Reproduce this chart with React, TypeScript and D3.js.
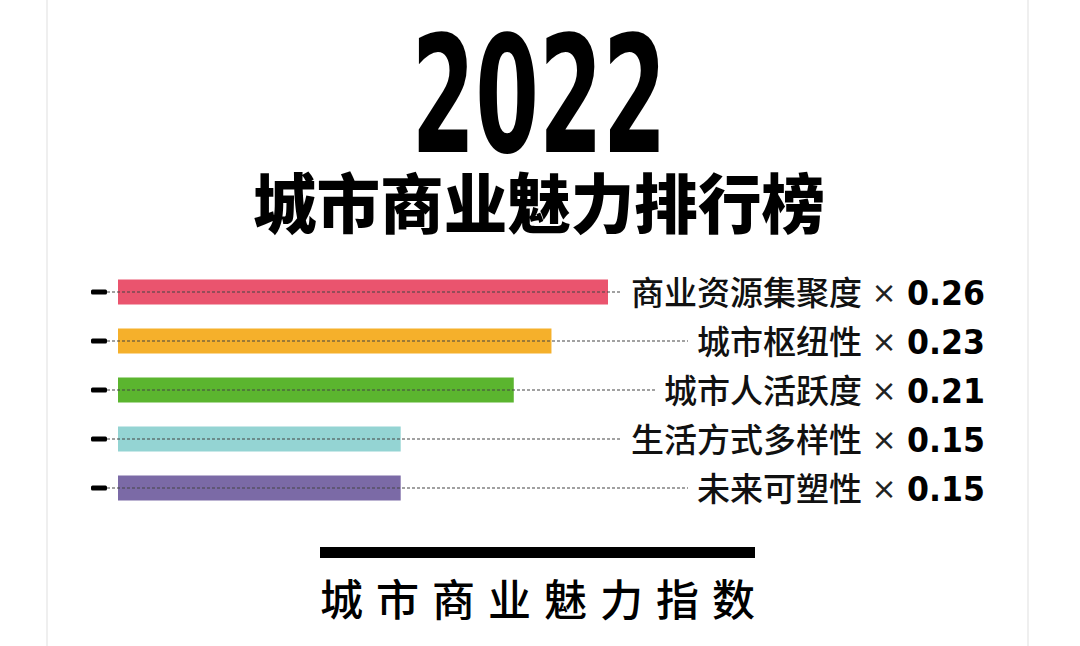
import React from 'react';
import * as d3 from 'd3';

const categories = ['商业资源集聚度', '城市枢纽性', '城市人活跃度', '生活方式多样性', '未来可塑性'];
const weights = [0.26, 0.23, 0.21, 0.15, 0.15];
const weightLabels = ['0.26', '0.23', '0.21', '0.15', '0.15'];
const barColors = ['#ea546e', '#f5b02b', '#5bb52f', '#94d4d3', '#7b6aa6'];

const yearText = '2022';
const titleText = '城市商业魅力排行榜';
const footerText = '城市商业魅力指数';

const CJK = '"Noto Sans CJK SC", "Noto Sans", sans-serif';
const NUM = '"DejaVu Sans", "Liberation Sans", sans-serif';

export default function App() {
  const width = 1080;
  const height = 646;

  const x = d3.scaleLinear().domain([0, 0.26]).range([118, 608]);
  const y = d3.scalePoint<string>().domain(categories).range([292, 488]);

  const barH = 25;
  const labelSize = 33;
  const labelEnd = 862;

  return (
    <svg
      width={width}
      height={height}
      style={{ position: 'absolute', left: 0, top: 0, background: '#fff' }}
    >
      {/* card edges */}
      <rect x={46} y={0} width={2} height={height} fill="#efefef" />
      <rect x={1027} y={0} width={2} height={height} fill="#efefef" />

      <text
        x={411.5}
        y={151.5}
        fontFamily={NUM}
        fontWeight={700}
        fontSize={162}
        textLength={255}
        lengthAdjust="spacingAndGlyphs"
        fill="#000"
      >
        {yearText}
      </text>

      <text
        x={253}
        y={228}
        fontFamily={CJK}
        fontWeight={900}
        fontSize={65}
        textLength={572}
        lengthAdjust="spacingAndGlyphs"
        fill="#000"
      >
        {titleText}
      </text>

      {categories.map((c, i) => {
        const cy = y(c) as number;
        const labelStart = labelEnd - c.length * labelSize;
        return (
          <g key={c}>
            <rect x={x(0)} y={cy - barH / 2} width={x(weights[i]) - x(0)} height={barH} fill={barColors[i]} />
            <rect x={91} y={cy - 2.5} width={16} height={5} rx={1.5} fill="#000" />
            <line
              x1={107}
              x2={labelStart - 9}
              y1={cy}
              y2={cy}
              stroke="#444"
              strokeWidth={1.2}
              strokeDasharray="3,2"
            />
            <text
              x={labelEnd}
              y={cy + labelSize * 0.38}
              textAnchor="end"
              fontFamily={CJK}
              fontWeight={500}
              fontSize={labelSize}
              fill="#111"
            >
              {c}
            </text>
            <text
              x={884}
              y={cy + 11}
              textAnchor="middle"
              fontFamily={NUM}
              fontSize={30}
              fill="#222"
            >
              ×
            </text>
            <text
              x={907}
              y={cy + 13}
              fontFamily={NUM}
              fontWeight={700}
              fontSize={34}
              textLength={78}
              lengthAdjust="spacingAndGlyphs"
              fill="#000"
            >
              {weightLabels[i]}
            </text>
          </g>
        );
      })}

      <rect x={320} y={547} width={435} height={11} fill="#000" />
      <text
        x={320}
        y={616}
        fontFamily={CJK}
        fontWeight={500}
        fontSize={43}
        textLength={435}
        lengthAdjust="spacing"
        fill="#000"
      >
        {footerText}
      </text>
    </svg>
  );
}
